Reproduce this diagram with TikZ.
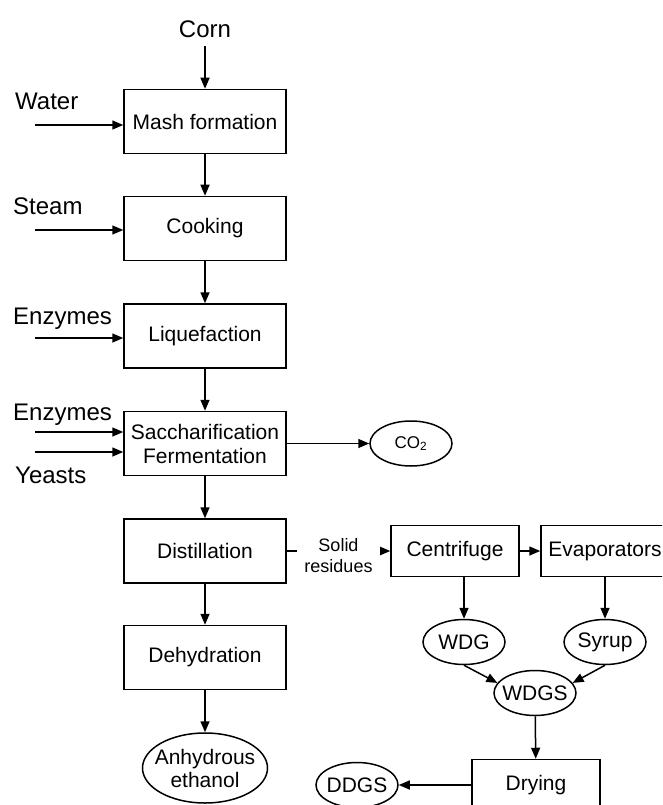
\documentclass[tikz,border=0pt]{standalone}
\usepackage{fontspec}
\setmainfont{Liberation Sans}
\usetikzlibrary{arrows.meta,shapes.geometric}
\tikzset{
  boxPt/.style={draw,line width=1.5pt,minimum width=162pt,minimum height=64pt,inner sep=2pt,font=\fontsize{21}{24}\selectfont,align=center},
  smallboxPt/.style={boxPt,minimum width=128pt,minimum height=51pt},
  ovalPt/.style={draw,ellipse,line width=1.5pt,minimum width=82pt,minimum height=45pt,inner xsep=-6pt,inner ysep=0pt,font=\fontsize{21}{23}\selectfont,align=center},
  inPt/.style={anchor=base west,inner sep=0pt,font=\fontsize{24}{26}\selectfont},
  flowPt/.style={line width=1.5pt,-{Triangle[length=11pt,width=9pt]}}
}
\begin{document}
\begin{tikzpicture}[x=1pt,y=-1pt]
\useasboundingbox (0,0) rectangle (662,805);
\clip (0,0) rectangle (662,805);

%主流程
\node[inPt,anchor=base,inner sep=8pt] (nCorn) at (205,38) {Corn};
\node[boxPt] (nMash) at (205,121.5) {Mash formation};
\node[boxPt] (nCook) at (205,228.5) {Cooking};
\node[boxPt] (nLiq) at (205,336) {Liquefaction};
\node[boxPt] (nSacch) at (205,443.5) {Saccharification\\Fermentation};
\node[boxPt] (nDist) at (205,551) {Distillation};
\node[boxPt] (nDehyd) at (205,657.5) {Dehydration};
\node[ovalPt,minimum width=125pt,minimum height=70pt] (nEthanol) at (205,768) {Anhydrous\\ethanol};

\draw[flowPt] (nCorn) -- (nMash);
\draw[flowPt] (nMash) -- (nCook);
\draw[flowPt] (nCook) -- (nLiq);
\draw[flowPt] (nLiq) -- (nSacch);
\draw[flowPt] (nSacch) -- (nDist);
\draw[flowPt] (nDist) -- (nDehyd);
\draw[flowPt] (nDehyd) -- (nEthanol);

%左邊的進料
\node[inPt] (nWater) at (15,110) {Water};
\node[inPt] (nSteam) at (13,214) {Steam};
\node[inPt] (nEnzA) at (13,324) {Enzymes};
\node[inPt] (nEnzB) at (13,420) {Enzymes};
\node[inPt] (nYeast) at (15,483) {Yeasts};
\coordinate (cWaterPt) at (35,125);
\coordinate (cSteamPt) at (35,230);
\coordinate (cEnzAPt) at (35,338);
\coordinate (cEnzBPt) at (35,432);
\coordinate (cYeastPt) at (35,452);
\draw[flowPt] (cWaterPt) -- (cWaterPt -| nMash.west);
\draw[flowPt] (cSteamPt) -- (cSteamPt -| nCook.west);
\draw[flowPt] (cEnzAPt) -- (cEnzAPt -| nLiq.west);
\draw[flowPt] (cEnzBPt) -- (cEnzBPt -| nSacch.west);
\draw[flowPt] (cYeastPt) -- (cYeastPt -| nSacch.west);

\node[ovalPt,font=\fontsize{17}{19}\selectfont] (nCO) at (411,443.5) {CO\textsubscript{2}};
\draw[flowPt] (nSacch.east) -- (nCO.west);

%副產品
\node[smallboxPt] (nCentri) at (455,551) {Centrifuge};
\node[smallboxPt] (nEvap) at (605,551) {Evaporators};
\node[ovalPt] (nWDG) at (464,642) {WDG};
\node[ovalPt] (nSyrup) at (605,642) {Syrup};
\node[ovalPt] (nWDGS) at (535,693) {WDGS};
\node[smallboxPt] (nDrying) at (536,785) {Drying};
\node[ovalPt] (nDDGS) at (357,785) {DDGS};

\draw[flowPt] (nDist.east) -- node[fill=white,inner sep=7pt,yshift=-5pt,align=center,font=\fontsize{18}{21}\selectfont] {Solid\\residues} (nCentri.west);
\draw[flowPt] (nCentri) -- (nEvap);
\draw[flowPt] (nWDG.north |- nCentri.south) -- (nWDG.north);
\draw[flowPt] (nEvap) -- (nSyrup);
\draw[flowPt] (nWDG.south) -- (nWDGS.165);
\draw[flowPt] (nSyrup.south) -- (nWDGS.15);
\draw[flowPt] (nWDGS) -- (nDrying);
\draw[flowPt] (nDrying) -- (nDDGS);

\end{tikzpicture}
\end{document}
